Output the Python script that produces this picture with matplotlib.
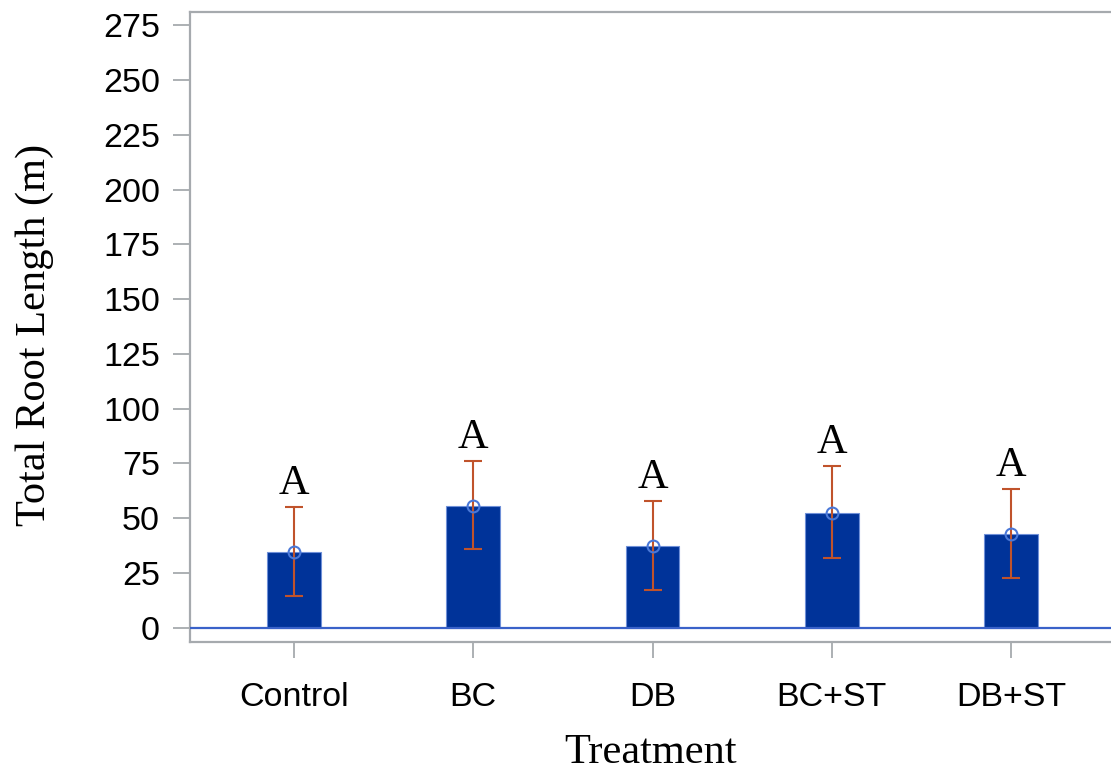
import matplotlib
matplotlib.use("Agg")
import matplotlib.pyplot as plt
import numpy as np

categories = ["Control", "BC", "DB", "BC+ST", "DB+ST"]
means = [34.7, 55.7, 37.3, 52.5, 42.8]
err_low = [14.6, 35.8, 17.1, 31.8, 22.8]
err_high = [55.3, 76.3, 57.9, 74.0, 63.3]
letters = ["A", "A", "A", "A", "A"]
yticks = [0, 25, 50, 75, 100, 125, 150, 175, 200, 225, 250, 275]

W, H = 1111, 778
fig = plt.figure(figsize=(W / 100, H / 100), dpi=100)
ax = fig.add_axes([190 / W, 1 - 642 / H, 1 - 190 / W, (642 - 12) / H])

x = np.arange(len(categories))
bar_color = "#003399"
ax.bar(x, means, width=0.3, color=bar_color, edgecolor="#6f90d8", linewidth=0.8, zorder=2)
ax.axhline(0, color="#3a62c9", linewidth=1.6, zorder=3)

m = np.array(means)
lo = m - np.array(err_low)
hi = np.array(err_high) - m
ax.errorbar(x, m, yerr=[lo, hi], fmt="none", ecolor="#c0532b", elinewidth=1.5,
            capsize=6.5, capthick=1.5, zorder=4)
ax.plot(x, m, "o", ms=8.5, mfc="none", mec="#4a78d8", mew=1.5, zorder=5)

for xi, top, lab in zip(x, err_high, letters):
    ax.text(xi, top + 5.8, lab, ha="center", va="baseline",
            fontfamily="Liberation Serif", fontsize=30.5, color="black")

ax.set_xlim(-0.58, 4.557)
ax.set_ylim(-6.53, 281.1)
ax.set_yticks(yticks)
ax.set_xticks(x)
ax.set_xticklabels(categories)

for s in ["left", "bottom", "top"]:
    ax.spines[s].set_color("#a6aaae")
    ax.spines[s].set_linewidth(1.6)
ax.spines["right"].set_visible(False)

ax.tick_params(axis="y", length=12.2, width=1.3, color="#a6aaae", pad=9.4,
               labelsize=24.5)
ax.tick_params(axis="x", length=11.5, width=1.3, color="#a6aaae", pad=17,
               labelsize=24.5)
for lbl in ax.get_xticklabels() + ax.get_yticklabels():
    lbl.set_fontfamily("Liberation Sans")

fig.text(35 / W, 1 - 335 / H, "Total Root Length (m)", rotation=90,
         ha="center", va="center", fontfamily="Liberation Serif", fontsize=30.5)
fig.text(651 / W, 1 - 763 / H, "Treatment", ha="center", va="baseline",
         fontfamily="Liberation Serif", fontsize=30.5)

fig.savefig("out.png", dpi=100)
